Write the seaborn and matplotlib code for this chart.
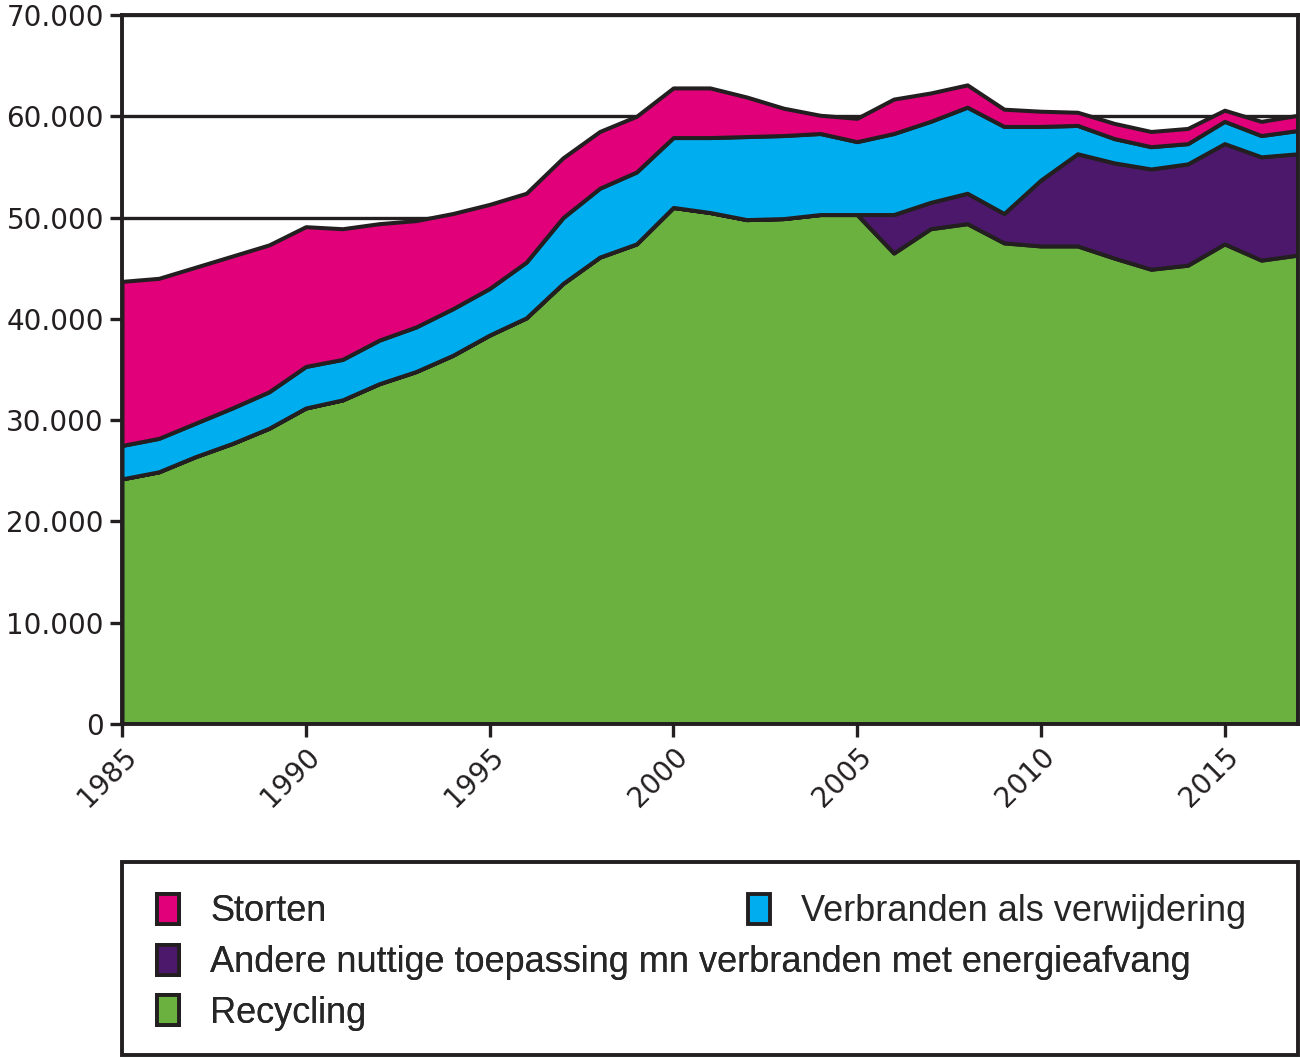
import numpy as np
import pandas as pd
import matplotlib
matplotlib.use("Agg")
import matplotlib.pyplot as plt
import seaborn as sns
from matplotlib.patches import Patch, Rectangle
from matplotlib.ticker import FuncFormatter

# ------------------------
# Data
# ------------------------
years = list(range(1985, 2018))

recycling = [24200, 24900, 26400, 27700, 29200, 31200, 32000, 33600, 34800, 36400,
             38400, 40100, 43500, 46100, 47400, 51000, 50500, 49800, 49900, 50300,
             50300, 46500, 48900, 49400, 47500, 47200, 47200, 46000, 44900, 45300,
             47400, 45800, 46300]
andere = [0, 0, 0, 0, 0, 0, 0, 0, 0, 0,
          0, 0, 0, 0, 0, 0, 0, 0, 0, 0,
          0, 3800, 2600, 3000, 2900, 6500, 9100, 9400, 9900, 10000,
          9900, 10200, 10000]
verbranden = [3300, 3300, 3300, 3500, 3600, 4100, 4000, 4300, 4400, 4600,
              4600, 5500, 6500, 6800, 7100, 6900, 7400, 8200, 8200, 8000,
              7200, 8000, 8000, 8500, 8600, 5300, 2800, 2400, 2200, 2000,
              2200, 2100, 2300]
storten = [16200, 15800, 15400, 15000, 14500, 13800, 12900, 11500, 10500, 9400,
           8300, 6800, 5900, 5600, 5500, 4900, 4900, 3900, 2700, 1800,
           2300, 3400, 2800, 2200, 1700, 1500, 1300, 1500, 1500, 1500,
           1100, 1400, 1500]

labels = ["Recycling",
          "Andere nuttige toepassing mn verbranden met energieafvang",
          "Verbranden als verwijdering",
          "Storten"]
colors = ["#6BB13F", "#4B186B", "#00AEEF", "#E2007A"]
dark = "#231F20"

df = pd.DataFrame({"jaar": years, labels[0]: recycling, labels[1]: andere,
                   labels[2]: verbranden, labels[3]: storten})

# ------------------------
# Plot
# ------------------------
sns.set_style("white")
plt.rcParams["font.family"] = ["DejaVu Sans"]

fig = plt.figure(figsize=(13, 10.59), dpi=100)
ax = fig.add_axes([122 / 1300, 1 - 724 / 1059, 1176 / 1300, 709 / 1059])

ax.stackplot(df["jaar"], [df[c] for c in labels], colors=colors,
             edgecolor=dark, linewidth=2.9, zorder=3)

ax.set_xlim(1985, 2017)
ax.set_ylim(0, 70000)
ax.set_yticks(range(0, 70001, 10000))
ax.set_xticks(range(1985, 2016, 5))
ax.yaxis.set_major_formatter(FuncFormatter(lambda v, p: f"{int(v):,}".replace(",", ".")))
ax.grid(axis="y", color=dark, linewidth=2.4, zorder=1)
ax.set_axisbelow(True)

for s in ax.spines.values():
    s.set_color(dark)
    s.set_linewidth(2.8)
    s.set_zorder(5)

ax.tick_params(axis="both", direction="out", length=9, width=2.4, color=dark,
               labelsize=20, labelcolor=dark, left=True, bottom=True, pad=4)
for lab in ax.get_xticklabels():
    lab.set_rotation(45)
    lab.set_ha("right")
    lab.set_rotation_mode("anchor")

# ------------------------
# Legend
# ------------------------
fig.add_artist(Rectangle((122 / 1300, 4 / 1059), 1176 / 1300, 193 / 1059,
                         transform=fig.transFigure, facecolor="white",
                         edgecolor=dark, linewidth=2.8))

def handle(c):
    return Patch(facecolor=c, edgecolor=dark, linewidth=2.8)

leg_font = {"family": ["Liberation Sans"], "size": 26}
leg1 = fig.legend([handle(colors[3]), handle(colors[1]), handle(colors[0])],
                  [labels[3], labels[1], labels[0]],
                  loc="upper left", bbox_to_anchor=(157 / 1300, 1 - 894 / 1059),
                  frameon=False, prop=leg_font, handlelength=0.62, handleheight=0.9,
                  handletextpad=0.85, labelspacing=0.42, borderpad=0, borderaxespad=0)
fig.add_artist(leg1)
fig.legend([handle(colors[2])], [labels[2]],
           loc="upper left", bbox_to_anchor=(748 / 1300, 1 - 894 / 1059),
           frameon=False, prop=leg_font, handlelength=0.62, handleheight=0.9,
           handletextpad=0.85, borderpad=0, borderaxespad=0)

plt.savefig("out.png", dpi=100)
plt.close()
